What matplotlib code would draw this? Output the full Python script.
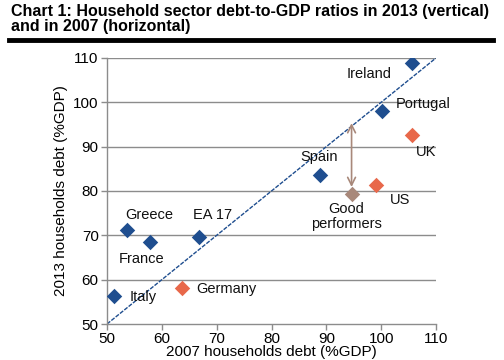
import matplotlib
matplotlib.use("Agg")
import matplotlib.pyplot as plt

plt.rcParams['font.family'] = ['Liberation Sans', 'DejaVu Sans']

# Data
blue_names = ["Italy", "Greece", "France", "EA 17", "Spain", "Portugal", "Ireland"]
blue_x = [51.2, 53.6, 57.9, 66.7, 88.8, 100.2, 105.6]
blue_y = [56.4, 71.3, 68.5, 69.6, 83.5, 98.1, 108.8]
orange_names = ["Germany", "US", "UK"]
orange_x = [63.6, 99.0, 105.7]
orange_y = [58.1, 81.4, 92.7]
good_name = "Good\nperformers"
good_x = [94.6]
good_y = [79.3]
arrow_top = 95.3
arrow_bottom = 80.9
diag = [50, 110]
ticks = [50, 60, 70, 80, 90, 100, 110]

BLUE = "#1F4E8F"
ORANGE = "#E8684A"
TAN = "#A8887A"

fig = plt.figure(figsize=(5.04, 3.6), dpi=100)
ax = fig.add_axes([0.2123, 0.1, 0.6528, 0.739])

ax.set_xlim(50, 110)
ax.set_ylim(50, 110)
for t in ticks[1:]:
    ax.axhline(t, color="#8C8C8C", lw=1.0, zorder=0)

ax.plot(diag, diag, color=BLUE, lw=1.0, ls=(0, (3, 1)), zorder=2)

ax.scatter(blue_x, blue_y, marker="D", s=62, color=BLUE, zorder=3, linewidths=0)
ax.scatter(orange_x, orange_y, marker="D", s=62, color=ORANGE, zorder=3, linewidths=0)
ax.scatter(good_x, good_y, marker="D", s=62, color=TAN, zorder=3, linewidths=0)

ax.annotate("", xy=(good_x[0], arrow_top), xytext=(good_x[0], arrow_bottom),
            arrowprops=dict(arrowstyle="<->", color=TAN, lw=1.2, shrinkA=0, shrinkB=0,
                            mutation_scale=14))

label_offsets = {
    "Italy": (2.9, -0.2),
    "Greece": (-0.2, 3.3),
    "France": (-5.7, -3.9),
    "EA 17": (-1.0, 5.0),
    "Spain": (-3.6, 4.1),
    "Portugal": (2.5, 1.6),
    "Ireland": (-11.9, -2.4),
    "Germany": (2.7, -0.2),
    "US": (2.6, -3.4),
    "UK": (0.6, -3.9),
}
fs = 10.5
for n, x, y in zip(blue_names + orange_names, blue_x + orange_x, blue_y + orange_y):
    dx, dy = label_offsets[n]
    ax.text(x + dx, y + dy, n, fontsize=fs, ha="left", va="center", color="#111111", zorder=4)
ax.text(good_x[0] - 0.9, good_y[0] - 5.05, good_name, fontsize=fs, ha="center", va="center",
        color="#111111", linespacing=1.1)

ax.set_xticks(ticks)
ax.set_yticks(ticks)
ax.tick_params(axis="both", labelsize=11, color="#8C8C8C", length=4, width=1, pad=2)
for s in ["top", "right"]:
    ax.spines[s].set_visible(False)
for s in ["left", "bottom"]:
    ax.spines[s].set_color("#8C8C8C")
    ax.spines[s].set_linewidth(1.0)

ax.set_xlabel("2007 households debt (%GDP)", fontsize=11)
ax.xaxis.set_label_coords(0.5, -0.078)
ax.set_ylabel("2013 households debt (%GDP)", fontsize=11, labelpad=4)

fig.text(0.022, 0.99, "Chart 1: Household sector debt-to-GDP ratios in 2013 (vertical)\nand in 2007 (horizontal)",
         fontsize=11.5, fontweight="bold", ha="left", va="top", linespacing=1.05)
fig.add_artist(plt.Line2D([0.018, 0.978], [0.888, 0.888], color="black", lw=3.5,
                          transform=fig.transFigure))

fig.savefig("out.png", dpi=100)
